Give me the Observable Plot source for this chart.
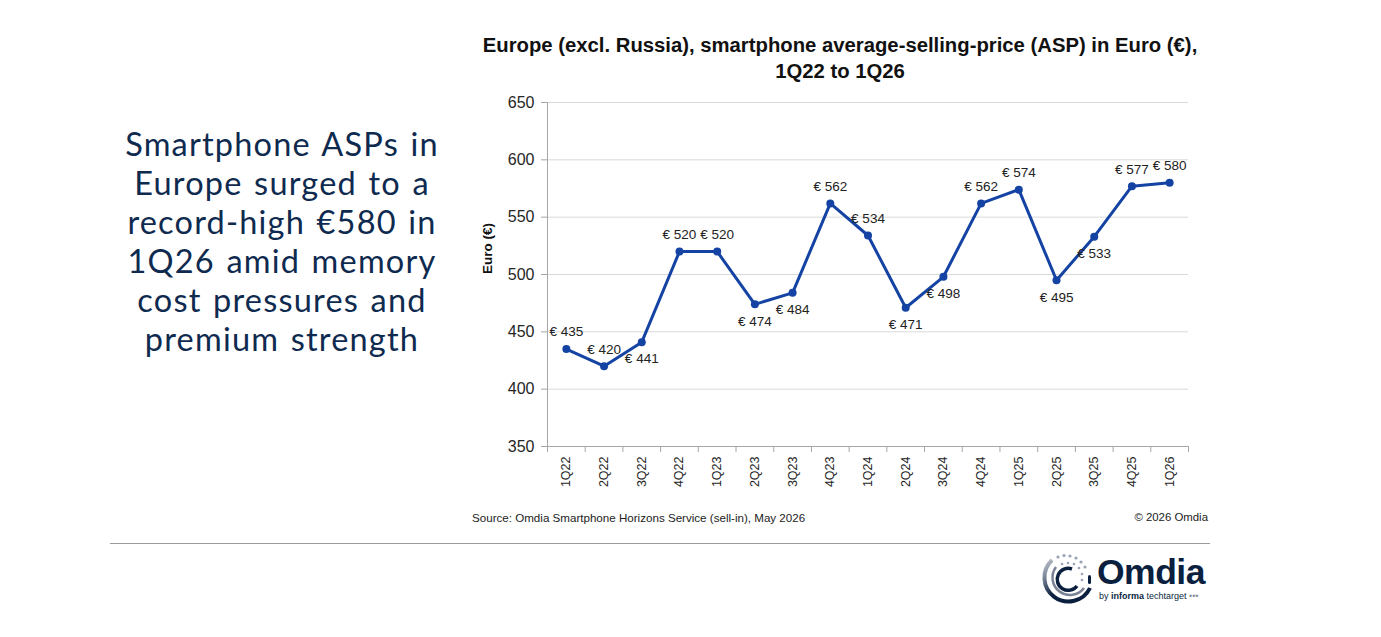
<!DOCTYPE html>
<html><head><meta charset="utf-8">
<script src="https://cdn.jsdelivr.net/npm/d3@7"></script>
<script src="https://cdn.jsdelivr.net/npm/@observablehq/plot@0.6"></script>
<style>
html,body{margin:0;padding:0;background:#fff;}
#page{position:relative;width:1381px;height:637px;overflow:hidden;font-family:"Liberation Sans",Arial,sans-serif;background:#fff;}
#headline{position:absolute;left:0;top:124px;width:564px;text-align:center;font-family:Lato,"Noto Sans",sans-serif;font-size:32.5px;line-height:39px;color:#0f2a4f;letter-spacing:1.2px;word-spacing:2px;}
#headline div{height:39px;white-space:nowrap;}
#title{position:absolute;left:440px;top:32px;width:800px;text-align:center;font-weight:bold;font-size:20.3px;line-height:26px;color:#111;white-space:nowrap;}
#chart{position:absolute;left:460px;top:90px;}
#source{position:absolute;left:472px;top:511px;font-size:11.6px;color:#222;}
#copy{position:absolute;left:1000px;width:208px;text-align:right;top:511px;font-size:11.4px;color:#222;}
#rule{position:absolute;left:110px;top:543px;width:1100px;height:0;border-top:1px solid #9a9a9a;}
#logo{position:absolute;left:1038px;top:552px;}
#omdia{position:absolute;left:1097px;top:552px;font-weight:bold;font-size:35.5px;color:#0b1f3f;letter-spacing:-0.5px;}
#by{position:absolute;left:1099px;top:591px;font-size:9px;color:#0b1f3f;}
</style></head><body>
<div id="page">
  <div id="headline"><div>Smartphone ASPs in</div><div>Europe surged to a</div><div>record-high €580 in</div><div>1Q26 amid memory</div><div>cost pressures and</div><div>premium strength</div></div>
  <div id="title">Europe (excl. Russia), smartphone average-selling-price (ASP) in Euro (€),<br>1Q22 to 1Q26</div>
  <div id="chart"></div>
  <div id="source">Source: Omdia Smartphone Horizons Service (sell-in), May 2026</div>
  <div id="copy">© 2026 Omdia</div>
  <div id="rule"></div>
  <svg id="logo" width="60" height="56" viewBox="0 0 60 56">
    <defs>
      <linearGradient id="g1" x1="0" y1="0" x2="1" y2="1">
        <stop offset="0" stop-color="#c9ccd3"/>
        <stop offset="0.5" stop-color="#0b1f3f"/>
        <stop offset="1" stop-color="#0b1f3f"/>
      </linearGradient>
    </defs>
    <path d="M 14 8 A 24 24 0 1 0 52 36" fill="none" stroke="url(#g1)" stroke-width="4"/>
    <path d="M 18 15 A 17 17 0 1 0 46 36" fill="none" stroke="#7a8296" stroke-width="2.5"/>
    <path d="M 34 17 A 11 11 0 1 0 39 34" fill="none" stroke="#0b1f3f" stroke-width="3.5"/>
    <g fill="#9aa2b5">
      <circle cx="20" cy="5" r="1.6"/><circle cx="26" cy="3.5" r="1.6"/><circle cx="32" cy="4" r="1.6"/><circle cx="38" cy="6" r="1.6"/><circle cx="43" cy="10" r="1.6"/><circle cx="47" cy="15" r="1.6"/>
      <circle cx="24" cy="12" r="1.3"/><circle cx="30" cy="11" r="1.3"/><circle cx="36" cy="12" r="1.3"/><circle cx="41" cy="16" r="1.3"/><circle cx="44" cy="22" r="1.3"/><circle cx="44" cy="28" r="1.3"/>
    </g>
    <rect x="50" y="23" width="3" height="9" rx="1.5" fill="#0b1f3f"/>
  </svg>
  <div id="omdia">Omdia</div>
  <div id="by">by <b>informa</b> techtarget <span style="color:#8a90a0">•••</span></div>
</div>
<script>
const quarters = ["1Q22","2Q22","3Q22","4Q22","1Q23","2Q23","3Q23","4Q23","1Q24","2Q24","3Q24","4Q24","1Q25","2Q25","3Q25","4Q25","1Q26"];
const asp = [435,420,441,520,520,474,484,562,534,471,498,562,574,495,533,577,580];
const yTicks = [350,400,450,500,550,600,650];
// label placement (style): true = label below the point
const labelBelow = [false,false,true,false,false,true,true,false,false,true,true,false,false,true,true,false,false];

const data = quarters.map((q, i) => ({i, q, v: asp[i], below: labelBelow[i]}));
const idx = d3.range(quarters.length);
const bounds = d3.range(quarters.length + 1).map(k => k - 0.5);
const blue = "#1443a3";
const axisGrey = "#a6a6a6";

const chart = Plot.plot({
  width: 748,
  height: 406,
  marginLeft: 87,
  marginRight: 20,
  marginTop: 12,
  marginBottom: 50,
  style: {fontFamily: "'Liberation Sans', Arial, sans-serif", background: "transparent", overflow: "visible", color: "#262626"},
  x: {type: "linear", domain: [-0.5, quarters.length - 0.5], axis: null},
  y: {domain: [350, 650], axis: null},
  marks: [
    Plot.gridY(yTicks, {stroke: "#d9d9d9", strokeOpacity: 1}),
    Plot.ruleY([350], {stroke: axisGrey}),
    Plot.ruleX([-0.5], {stroke: axisGrey}),
    Plot.axisY(yTicks, {tickSize: 6, tickPadding: 7, fontSize: 16, stroke: axisGrey, fill: "#262626", label: null}),
    Plot.axisX(idx, {tickSize: 0, tickPadding: 10, tickRotate: -90, fontSize: 12.5, tickFormat: i => quarters[i], fill: "#262626", label: null}),
    Plot.axisX(bounds, {tickSize: 6, tickFormat: () => "", stroke: axisGrey, label: null}),
    Plot.line(data, {x: "i", y: "v", stroke: blue, strokeWidth: 3}),
    Plot.dot(data, {x: "i", y: "v", r: 4, fill: blue}),
    Plot.text(data.filter(d => !d.below), {x: "i", y: "v", text: d => "€ " + d.v, dy: -17, fontSize: 13.5, fill: "#222"}),
    Plot.text(data.filter(d => d.below), {x: "i", y: "v", text: d => "€ " + d.v, dy: 17, fontSize: 13.5, fill: "#222"}),
    Plot.text(["Euro (€)"], {frameAnchor: "left", text: d => d, rotate: -90, textAnchor: "middle", dx: -60, dy: -26, fontSize: 13.5, fontWeight: "bold", fill: "#111"})
  ]
});
document.getElementById("chart").appendChild(chart);
</script>
</body></html>
